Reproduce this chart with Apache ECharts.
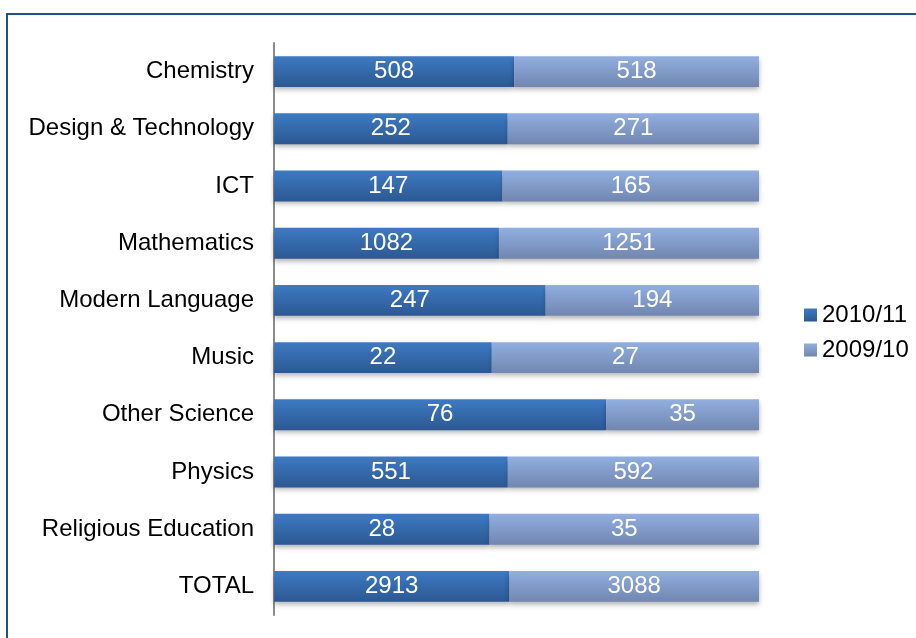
<!DOCTYPE html>
<html>

<head>
    <meta charset="utf-8">
    <script src="https://cdn.jsdelivr.net/npm/echarts@6/dist/echarts.min.js"></script>
    <style>
        body { margin: 0; background: #fff; }
        #main { width: 916px; height: 638px; }
    </style>
</head>

<body>
    <div id="main"></div>
</body>
<script>
    var subjects = ['Chemistry', 'Design & Technology', 'ICT', 'Mathematics', 'Modern Language',
        'Music', 'Other Science', 'Physics', 'Religious Education', 'TOTAL'];
    var y2010 = [508, 252, 147, 1082, 247, 22, 76, 551, 28, 2913];
    var y2009 = [518, 271, 165, 1251, 194, 27, 35, 592, 35, 3088];

    // 100% stacked: each bar split by its share of the row total
    function share(arr, idx) {
        return arr[idx] / (y2010[idx] + y2009[idx]);
    }
    var d2010 = subjects.map(function (s, i) { return share(y2010, i); });
    var d2009 = subjects.map(function (s, i) { return share(y2009, i); });

    function grad(top, bottom) {
        return new echarts.graphic.LinearGradient(0, 0, 0, 1, [
            { offset: 0, color: top },
            { offset: 1, color: bottom }
        ]);
    }

    var font = 'Liberation Sans, Arial, sans-serif';
    var myChart = echarts.init(document.getElementById('main'));
    myChart.setOption({
        animation: false,
        textStyle: { fontFamily: font },
        graphic: [{
            type: 'rect',
            shape: { x: 7, y: 14, width: 1000, height: 1000 },
            style: { fill: 'none', stroke: '#1d5382', lineWidth: 2 }
        }],
        legend: {
            orient: 'vertical',
            left: 799,
            top: 298,
            icon: 'rect',
            itemWidth: 13,
            itemHeight: 13,
            itemGap: 11,
            textStyle: { fontSize: 24, color: '#000', fontFamily: font },
            data: ['2010/11', '2009/10']
        },
        grid: { left: 274, right: 157, top: 43, height: 572 },
        xAxis: {
            type: 'value',
            min: 0,
            max: 1,
            show: false
        },
        yAxis: {
            type: 'category',
            inverse: true,
            data: subjects,
            axisLine: { show: true, lineStyle: { color: '#8c8c8c', width: 2 } },
            axisTick: { show: false },
            axisLabel: { fontSize: 24, color: '#000', margin: 20, fontFamily: font }
        },
        series: [{
            name: '2010/11',
            type: 'bar',
            stack: 'all',
            barWidth: '54%',
            data: d2010,
            itemStyle: {
                color: grad('#3d7ac3', '#2c5892'),
                shadowBlur: 5, shadowOffsetY: 3, shadowColor: 'rgba(0,0,0,0.3)'
            },
            label: {
                show: true, position: 'inside', color: '#fff', fontSize: 24, fontFamily: font,
                formatter: function (p) { return y2010[p.dataIndex]; }
            }
        }, {
            name: '2009/10',
            type: 'bar',
            stack: 'all',
            barWidth: '54%',
            data: d2009,
            itemStyle: {
                color: grad('#91afe0', '#7186b0'),
                shadowBlur: 5, shadowOffsetY: 3, shadowColor: 'rgba(0,0,0,0.3)'
            },
            label: {
                show: true, position: 'inside', color: '#fff', fontSize: 24, fontFamily: font,
                formatter: function (p) { return y2009[p.dataIndex]; }
            }
        }]
    });
</script>

</html>
